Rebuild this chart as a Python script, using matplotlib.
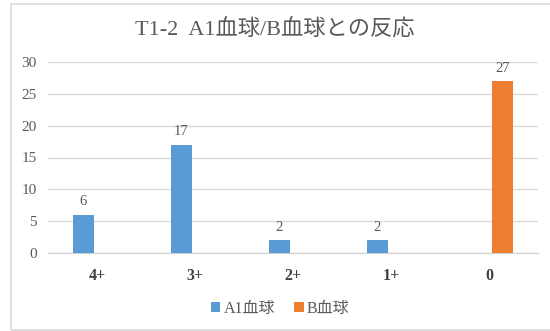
import numpy as np
import matplotlib.pyplot as plt
from matplotlib.patches import Rectangle

plt.rcParams['font.family'] = ['Liberation Serif', 'Noto Sans CJK JP']

categorias = ['4+', '3+', '2+', '1+', '0']
a1_vals = [6, 17, 2, 2, 0]
b_vals = [0, 0, 0, 0, 27]
serie_a1 = 'A1血球'
serie_b = 'B血球'
titulo = 'T1-2  A1血球/B血球との反応'

azul = '#5b9bd5'
naranja = '#ed7d31'
gris = '#595959'

fig = plt.figure(figsize=(5.5, 3.31), dpi=100)
ax = fig.add_axes([48 / 550, 1 - 253 / 331, 490 / 550, 191 / 331])

# marco exterior del gráfico
fig.patches.append(Rectangle((10.5 / 550, 1.5 / 331), 1.2, 1 - 5 / 331,
                             transform=fig.transFigure, fill=False,
                             edgecolor='#d9d9d9', linewidth=1.2))

x = np.arange(len(categorias))
w = 0.215
d = 0.14
b1 = ax.bar(x - d, a1_vals, w, color=azul, label=serie_a1, zorder=3)
b2 = ax.bar(x + d, b_vals, w, color=naranja, label=serie_b, zorder=3)

# etiquetas de valor, solo en barras no nulas
for barras, vals in ((b1, a1_vals), (b2, b_vals)):
    for r, v in zip(barras, vals):
        if v:
            ax.text(r.get_x() + r.get_width() / 2, v + 1.0, str(v),
                    ha='center', va='bottom', fontsize=10.5, color=gris)

ax.set_xlim(-0.5, len(categorias) - 0.5)
ax.set_ylim(0, 30)
ax.set_yticks(range(0, 31, 5))
ax.set_xticks(x)
ax.set_xticklabels(categorias, fontsize=11.5, color='#404040', fontweight='bold')
ax.tick_params(axis='y', labelsize=11, colors=gris, length=0, pad=8)
ax.tick_params(axis='x', length=0, pad=11)
ax.grid(axis='y', color='#d9d9d9', linewidth=1, zorder=0)
for s in ['top', 'right', 'left']:
    ax.spines[s].set_visible(False)
ax.spines['bottom'].set_color('#d0d0d0')

fig.text(275 / 550, 1 - 30 / 331, titulo, ha='center', va='center',
         fontsize=16, color=gris)

fig.legend(loc='center', bbox_to_anchor=(280 / 550, 1 - 309 / 331), ncol=2,
           frameon=False, fontsize=11.5, labelcolor=gris, handlelength=0.6,
           handleheight=0.6, handletextpad=0.2, columnspacing=1.2)

fig.savefig('out.png', dpi=100)
